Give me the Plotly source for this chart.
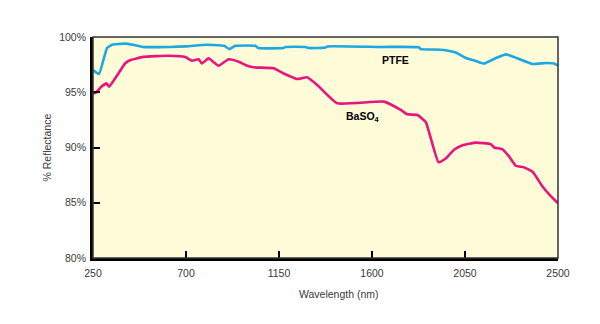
import plotly.graph_objects as go

# PTFE reflectance curve (wavelength nm, % reflectance)
ptfe_wl = [250, 279, 300, 318, 342, 405, 444, 492, 623, 700, 800, 860, 885, 910, 939, 1036, 1050,
           1171, 1181, 1278, 1293, 1375, 1385, 1642, 1826, 1836, 1933, 2005, 2054, 2100, 2141,
           2200, 2248, 2300, 2377, 2442, 2480, 2500]
ptfe_r = [97.0, 96.65, 97.9, 99.0, 99.3, 99.4, 99.3, 99.1, 99.1, 99.15, 99.3, 99.25, 99.2, 98.9,
          99.2, 99.2, 99.0, 99.0, 99.1, 99.1, 99.0, 99.05, 99.15, 99.1, 99.07, 98.9, 98.85, 98.6,
          98.1, 97.85, 97.6, 98.1, 98.43, 98.1, 97.56, 97.65, 97.6, 97.4]

# BaSO4 reflectance curve
baso4_wl = [250, 264, 290, 316, 328, 373, 405, 429, 494, 615, 696, 729, 761, 777, 809, 858, 906,
            955, 987, 1027, 1124, 1173, 1238, 1286, 1335, 1432, 1658, 1739, 1771, 1820, 1860,
            1922, 1957, 1997, 2038, 2103, 2175, 2191, 2232, 2264, 2296, 2336, 2377, 2426, 2465, 2500]
baso4_r = [94.9, 94.96, 95.5, 95.8, 95.5, 96.7, 97.6, 97.9, 98.2, 98.3, 98.2, 97.85, 97.98, 97.6,
           98.07, 97.4, 97.98, 97.76, 97.47, 97.26, 97.17, 96.7, 96.2, 96.35, 95.66, 94.0, 94.15,
           93.4, 93.0, 92.94, 92.3, 88.66, 89.0, 89.8, 90.2, 90.44, 90.3, 90.0, 89.84, 89.17, 88.35,
           88.2, 87.8, 86.45, 85.6, 84.95]

x_ticks = [250, 700, 1150, 1600, 2050, 2500]
y_ticks = [80, 85, 90, 95, 100]
y_labels = ["80%", "85%", "90%", "95%", "100%"]

fig = go.Figure()
fig.add_trace(go.Scatter(x=ptfe_wl, y=ptfe_r, mode="lines", line=dict(color="#1FA8E0", width=2.6, shape="spline", smoothing=0.4)))
fig.add_trace(go.Scatter(x=baso4_wl, y=baso4_r, mode="lines", line=dict(color="#E8157E", width=2.6, shape="spline", smoothing=0.4)))

font = "Liberation Sans, Arial, sans-serif"
fig.update_layout(
    width=600, height=324,
    margin=dict(l=93, r=42, t=37, b=66),
    paper_bgcolor="white",
    plot_bgcolor="#FEFBD9",
    showlegend=False,
    font=dict(family=font, size=10.5, color="#3a3a3a"),
    xaxis=dict(range=[250, 2500], tickvals=x_ticks, ticktext=[str(v) for v in x_ticks],
               ticks="inside", ticklen=7, tickwidth=2, tickcolor="black",
               showline=True, linecolor="black", linewidth=2.8, showgrid=False, zeroline=False,
               ticklabelstandoff=3),
    yaxis=dict(range=[80, 100], tickvals=y_ticks, ticktext=y_labels,
               ticks="inside", ticklen=7, tickwidth=2, tickcolor="black",
               showline=True, linecolor="black", linewidth=2.8, showgrid=False, zeroline=False,
               ticklabelstandoff=2),
    shapes=[dict(type="rect", xref="paper", yref="paper", x0=0, y0=0, x1=1, y1=1,
                 line=dict(color="#333", width=1.5), layer="above")],
    annotations=[
        dict(text="PTFE", x=1715, y=97.9, xref="x", yref="y", showarrow=False,
             font=dict(family=font, size=10.5, color="black", weight="bold")),
        dict(text="BaSO<sub>4</sub>", x=1555, y=92.8, xref="x", yref="y", showarrow=False,
             font=dict(family=font, size=10.5, color="black", weight="bold")),
        dict(text="Wavelength (nm)", x=0.53, y=-0.125, xref="paper", yref="paper", showarrow=False,
             xanchor="center", yanchor="top", font=dict(family=font, size=10.5, color="#3a3a3a")),
        dict(text="% Reflectance", x=-0.099, y=0.5, xref="paper", yref="paper", showarrow=False,
             textangle=-90, xanchor="center", yanchor="middle", font=dict(family=font, size=10.5, color="#3a3a3a")),
    ],
)
fig.write_html("out.html")
